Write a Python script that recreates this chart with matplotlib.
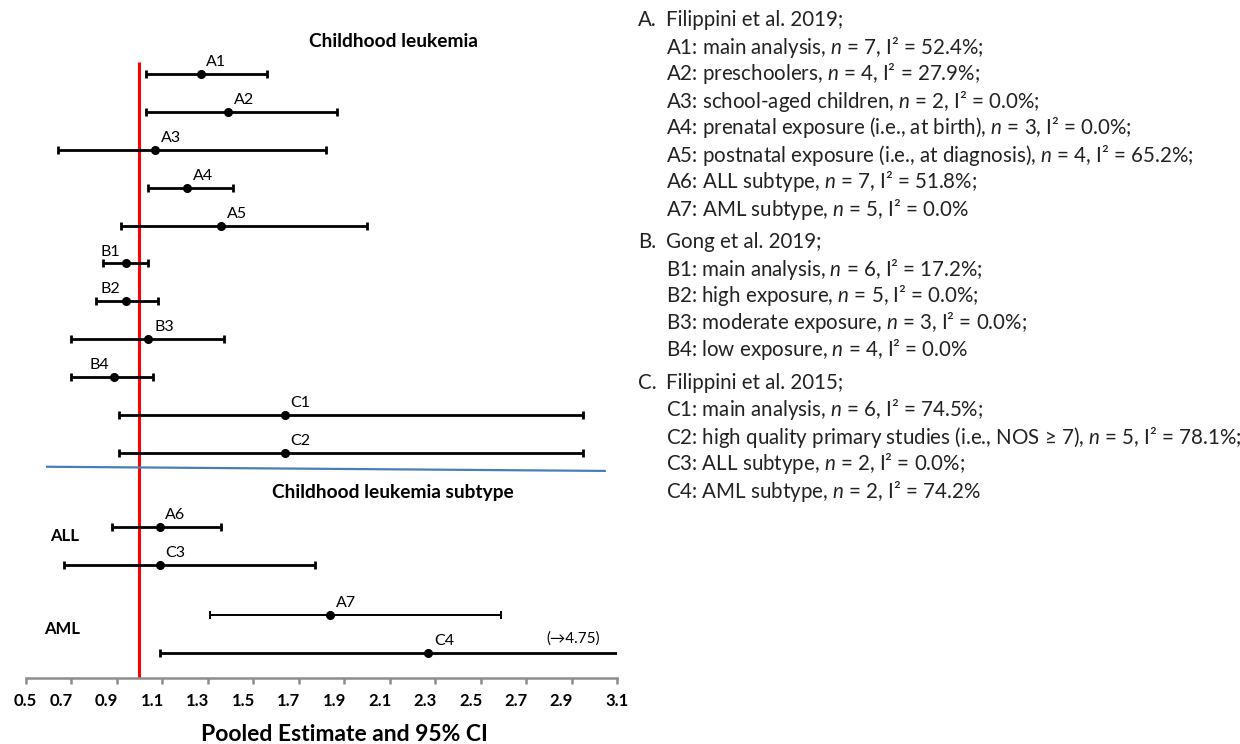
import numpy as np
import matplotlib
matplotlib.use("Agg")
import matplotlib.pyplot as plt
from matplotlib.transforms import ScaledTranslation

plt.rcParams['font.family'] = ['Lato', 'DejaVu Sans']
plt.rcParams['mathtext.fontset'] = 'custom'
plt.rcParams['mathtext.rm'] = 'Lato'
plt.rcParams['mathtext.it'] = 'Lato:italic'

# pooled estimates and 95% CI
labels = ['A1', 'A2', 'A3', 'A4', 'A5', 'B1', 'B2', 'B3', 'B4', 'C1', 'C2',
          'A6', 'C3', 'A7', 'C4']
est = [1.27, 1.39, 1.07, 1.21, 1.36, 0.94, 0.94, 1.04, 0.89, 1.64, 1.64,
       1.09, 1.09, 1.84, 2.27]
lower = [1.03, 1.03, 0.64, 1.04, 0.92, 0.84, 0.81, 0.70, 0.70, 0.91, 0.91,
         0.88, 0.67, 1.31, 1.09]
upper = [1.56, 1.87, 1.82, 1.41, 2.00, 1.04, 1.08, 1.37, 1.06, 2.95, 2.95,
         1.36, 1.77, 2.59, 4.75]
xticks = [0.5, 0.7, 0.9, 1.1, 1.3, 1.5, 1.7, 1.9, 2.1, 2.3, 2.5, 2.7, 2.9, 3.1]

notes = [
    ('A.', 'Filippini et al. 2019;', [
        'A1: main analysis, $n$ = 7, I² = 52.4%;',
        'A2: preschoolers, $n$ = 4, I² = 27.9%;',
        'A3: school-aged children, $n$ = 2, I² = 0.0%;',
        'A4: prenatal exposure (i.e., at birth), $n$ = 3, I² = 0.0%;',
        'A5: postnatal exposure (i.e., at diagnosis), $n$ = 4, I² = 65.2%;',
        'A6: ALL subtype, $n$ = 7, I² = 51.8%;',
        'A7: AML subtype, $n$ = 5, I² = 0.0%']),
    ('B.', 'Gong et al. 2019;', [
        'B1: main analysis, $n$ = 6, I² = 17.2%;',
        'B2: high exposure, $n$ = 5, I² = 0.0%;',
        'B3: moderate exposure, $n$ = 3, I² = 0.0%;',
        'B4: low exposure, $n$ = 4, I² = 0.0%']),
    ('C.', 'Filippini et al. 2015;', [
        'C1: main analysis, $n$ = 6, I² = 74.5%;',
        'C2: high quality primary studies (i.e., NOS ≥ 7), $n$ = 5, I² = 78.1%;',
        'C3: ALL subtype, $n$ = 2, I² = 0.0%;',
        'C4: AML subtype, $n$ = 2, I² = 74.2%']),
]

# row positions: 11 overall rows, then the subtype block
ypos = np.array(list(range(11)) + [11.96, 12.96, 14.29, 15.29])
# labels written to the left of the point
left_labels = ['B1', 'B2', 'B4']
est = np.array(est)
lower = np.array(lower)
upper = np.array(upper)

fig = plt.figure(figsize=(12.4, 7.44), dpi=100)
renderer = fig.canvas.get_renderer()


def fit_width(t, width_px):
    w = t.get_window_extent(renderer).width
    t.set_fontsize(t.get_fontsize() * width_px / w)


ax = fig.add_axes([0.0207, 0.0887, 0.4769, 0.8844])
ax.set_xlim(0.5, 3.1)
ax.set_ylim(15.95, -1.43)

ax.vlines(1.0, -0.32, 15.95, color='red', lw=2.2, zorder=1)

thin = [13]
for i in range(len(labels)):
    lw = 1.4 if i in thin else 2.0
    ax.errorbar(est[i], ypos[i], xerr=[[est[i] - lower[i]], [upper[i] - est[i]]],
                fmt='o', color='black', ms=5.5, elinewidth=lw, capsize=3.2,
                capthick=lw, zorder=3)
    if labels[i] in left_labels:
        ax.annotate(labels[i], (est[i], ypos[i]), xytext=(-4, 3.5),
                    textcoords='offset points', ha='right', va='bottom',
                    fontsize=11.5, color='black')
    else:
        ax.annotate(labels[i], (est[i], ypos[i]), xytext=(4, 3.5),
                    textcoords='offset points', ha='left', va='bottom',
                    fontsize=11.5, color='black')

ax.annotate('(→4.75)', (3.1, ypos[14]), xytext=(-12, 5),
            textcoords='offset points', ha='right', va='bottom', fontsize=11)

# separator between overall and subtype blocks
ax.plot([0.594, 3.046], [10.37, 10.48], color='#4a7ebb', lw=1.6, clip_on=False)

t1 = ax.text(2.115, -0.85, 'Childhood leukemia', ha='center', va='center',
             fontsize=14, fontweight='bold')
fit_width(t1, 170)
t2 = ax.text(2.115, 11.06, 'Childhood leukemia subtype', ha='center', va='center',
             fontsize=14, fontweight='bold')
fit_width(t2, 244)
ax.text(0.67, 12.2, 'ALL', ha='center', va='center', fontsize=12, fontweight='bold')
ax.text(0.66, 14.66, 'AML', ha='center', va='center', fontsize=12, fontweight='bold')

for s in ['top', 'left', 'right']:
    ax.spines[s].set_visible(False)
ax.spines['bottom'].set_color('#8c8c8c')
ax.spines['bottom'].set_linewidth(1.8)
ax.set_yticks([])
ax.set_xticks(xticks)
ax.set_xticklabels(['%.1f' % t for t in xticks], fontweight='bold', fontsize=12)
ax.tick_params(axis='x', direction='out', length=4, width=1.8, color='#8c8c8c', pad=7)
shift = ScaledTranslation(-10 / 100, 0, fig.dpi_scale_trans)
for lab in ax.get_xticklabels()[1:-1]:
    lab.set_transform(lab.get_transform() + shift)

xl = fig.text(344 / 1240, 3 / 744, 'Pooled Estimate and 95% CI', ha='center',
              va='baseline', fontsize=13, fontweight='bold')
fit_width(xl, 288)

# study key on the right
texts = []
y = 20
for letter, head, items in notes:
    texts.append(fig.text(638 / 1240, 1 - y / 744, letter, ha='left', va='center',
                          fontsize=12, color='#222222'))
    texts.append(fig.text(666 / 1240, 1 - y / 744, head, ha='left', va='center',
                          fontsize=12, color='#222222'))
    y += 27
    for it in items:
        texts.append(fig.text(666 / 1240, 1 - y / 744, it, ha='left', va='center',
                              fontsize=12, color='#222222'))
        y += 27
    y += 6

ref = [t for t in texts if t.get_text().startswith('A5')][0]
scale = 528 / ref.get_window_extent(renderer).width
for t in texts:
    t.set_fontsize(12 * scale)

fig.savefig('out.png', dpi=100)
